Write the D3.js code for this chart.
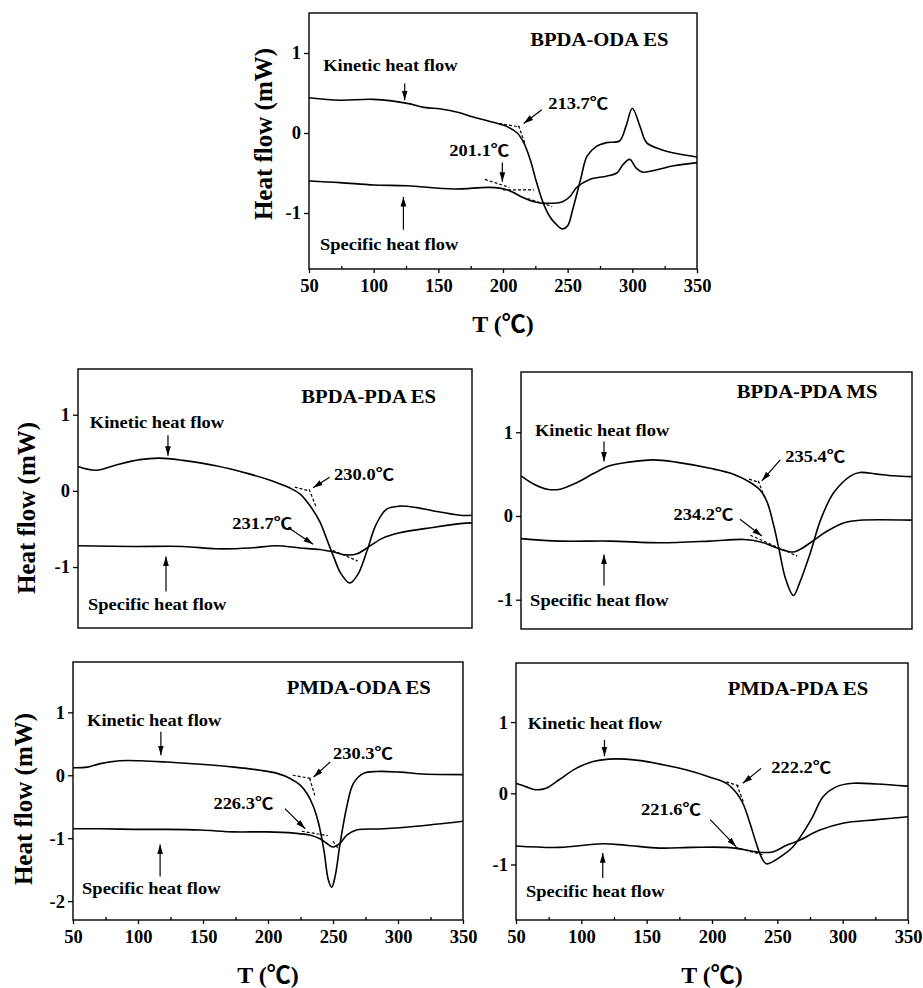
<!DOCTYPE html>
<html>
<head>
<meta charset="utf-8">
<script src="https://cdn.jsdelivr.net/npm/d3@7"></script>
<style>
body { margin: 0; background: #fff; }
text { font-family: "Liberation Serif", "Times New Roman", "Noto Sans CJK SC", serif; font-weight: bold; fill: #000; }
</style>
</head>
<body>
<div id="chart-container"></div>
<script>
// shared axis values
const xTicks = [50, 100, 150, 200, 250, 300, 350];
const xMinorTicks = [75, 125, 175, 225, 275, 325];

// BPDA-ODA ES (top)
const odaEsKinT = [50, 74, 100, 126, 139, 152, 165, 177, 190, 203, 211, 216, 221, 226, 231, 236, 241, 246, 250, 254, 260, 265, 272, 280, 290, 295, 300, 306, 311, 321, 332, 350];
const odaEsKin = [0.44, 0.41, 0.42, 0.37, 0.32, 0.30, 0.26, 0.20, 0.145, 0.08, 0.0, -0.12, -0.33, -0.62, -0.87, -1.04, -1.14, -1.20, -1.16, -0.95, -0.58, -0.29, -0.17, -0.12, -0.10, 0.08, 0.31, 0.08, -0.12, -0.20, -0.25, -0.30];
const odaEsSpecT = [50, 74, 100, 126, 162, 190, 203, 216, 224, 234, 246, 252, 257, 267, 280, 288, 293, 298, 303, 308, 319, 332, 350];
const odaEsSpec = [-0.60, -0.62, -0.65, -0.66, -0.70, -0.68, -0.71, -0.81, -0.86, -0.88, -0.86, -0.79, -0.68, -0.58, -0.54, -0.50, -0.39, -0.33, -0.44, -0.49, -0.46, -0.41, -0.37];
const odaEsTangents = [[[197, 0.12], [213, 0.075]], [[212, 0.09], [217, -0.13]], [[186, -0.58], [205, -0.68]], [[200, -0.71], [224, -0.71]], [[219, -0.82], [238, -0.92]]];
const odaEsLabels = [["Kinetic heat flow", 61, 0.85], ["213.7℃", 235, 0.37], ["201.1℃", 158.5, -0.21], ["Specific heat flow", 58.5, -1.39]];
const odaEsArrows = [[[124, 0.62], [124, 0.41]], [[230, 0.29], [216, 0.12]], [[199.5, -0.37], [199.5, -0.61]], [[123, -1.21], [123, -0.80]]];

// BPDA-PDA ES (middle left)
const pdaEsKinT = [50, 64, 79, 97, 112, 130, 155, 181, 198, 211, 219, 226, 234, 240, 245, 250, 257, 263, 270, 277, 285, 295, 308, 320, 341, 350];
const pdaEsKin = [0.32, 0.27, 0.34, 0.41, 0.43, 0.40, 0.33, 0.22, 0.13, 0.04, -0.04, -0.18, -0.40, -0.66, -0.88, -1.08, -1.21, -1.10, -0.79, -0.44, -0.24, -0.20, -0.22, -0.26, -0.32, -0.32];
const pdaEsSpecT = [50, 92, 130, 155, 181, 201, 219, 234, 244, 254, 262, 270, 282, 295, 320, 341, 350];
const pdaEsSpec = [-0.72, -0.73, -0.73, -0.76, -0.75, -0.72, -0.75, -0.77, -0.80, -0.84, -0.83, -0.75, -0.62, -0.55, -0.48, -0.43, -0.42];
const pdaEsTangents = [[[215, 0.05], [226, 0.0]], [[226, 0.02], [231, -0.20]], [[244, -0.78], [263, -0.92]]];
const pdaEsLabels = [["Kinetic heat flow", 59, 0.90], ["230.0℃", 245, 0.22], ["231.7℃", 167.5, -0.42], ["Specific heat flow", 57.6, -1.49]];
const pdaEsArrows = [[[118.5, 0.73], [118.5, 0.46]], [[241.6, 0.18], [229, 0.04]], [[210, -0.48], [229, -0.70]], [[117, -1.32], [117, -0.86]]];

// BPDA-PDA MS (middle right)
const pdaMsKinT = [50, 60, 70, 80, 93, 106, 118, 131, 152, 170, 195, 213, 226, 234, 239, 244, 248, 253, 259, 264, 272, 280, 290, 303, 310, 323, 336, 350];
const pdaMsKin = [0.48, 0.38, 0.32, 0.32, 0.40, 0.51, 0.60, 0.64, 0.67, 0.64, 0.57, 0.50, 0.40, 0.30, 0.16, -0.12, -0.40, -0.75, -0.95, -0.79, -0.44, -0.04, 0.28, 0.48, 0.52, 0.50, 0.48, 0.47];
const pdaMsSpecT = [50, 80, 118, 157, 195, 221, 234, 246, 259, 264, 272, 285, 298, 310, 350];
const pdaMsSpec = [-0.27, -0.30, -0.30, -0.32, -0.30, -0.28, -0.31, -0.38, -0.43, -0.40, -0.32, -0.18, -0.08, -0.05, -0.05];
const pdaMsTangents = [[[225, 0.44], [233, 0.40]], [[232, 0.42], [237, 0.22]], [[226, -0.23], [262, -0.48]]];
const pdaMsLabels = [["Kinetic heat flow", 60.7, 1.03], ["235.4℃", 252.7, 0.71], ["234.2℃", 167, 0.02], ["Specific heat flow", 57, -1.01]];
const pdaMsArrows = [[[113.7, 0.89], [113.7, 0.65]], [[248.9, 0.67], [234.8, 0.42]], [[218, -0.04], [234.8, -0.24]], [[113.7, -0.83], [113.7, -0.46]]];

// PMDA-ODA ES (bottom left)
const pmOdaKinT = [50, 61, 71, 86, 102, 122, 148, 174, 194, 207, 217, 225, 230, 235, 239, 243, 246.5, 249, 251.6, 255.5, 260.6, 265.7, 273.4, 283.7, 301.6, 319.5, 350];
const pmOdaKin = [0.12, 0.13, 0.185, 0.23, 0.23, 0.21, 0.175, 0.13, 0.08, 0.03, -0.05, -0.16, -0.29, -0.50, -0.77, -1.19, -1.67, -1.78, -1.61, -1.08, -0.50, -0.13, 0.03, 0.06, 0.05, 0.02, 0.01];
const pmOdaSpecT = [50, 71, 97, 122, 148, 174, 199, 220, 232, 240, 245, 250, 255.5, 260.6, 268, 289, 314, 350];
const pmOdaSpec = [-0.85, -0.85, -0.86, -0.86, -0.87, -0.90, -0.90, -0.92, -0.95, -1.01, -1.08, -1.14, -1.08, -0.95, -0.87, -0.85, -0.81, -0.73];
const pmOdaTangents = [[[219, 0.0], [233, -0.05]], [[232, -0.05], [236, -0.32]], [[226, -0.89], [246, -0.96]], [[250, -1.05], [255, -1.19]]];
const pmOdaLabels = [["Kinetic heat flow", 60.8, 0.87], ["230.3℃", 250, 0.35], ["226.3℃", 158, -0.45], ["Specific heat flow", 57, -1.80]];
const pmOdaArrows = [[[117.6, 0.69], [117.6, 0.32]], [[247.8, 0.21], [235, -0.03]], [[213, -0.53], [228.6, -0.85]], [[117, -1.61], [117, -1.10]]];

// PMDA-PDA ES (bottom right)
const pmPdaKinT = [50, 58, 65, 73, 83, 96, 109, 121, 134, 147, 160, 180, 198, 211, 218.5, 223.6, 228.7, 233.8, 237.6, 241.5, 246.6, 254.2, 262, 269.5, 277, 285, 295, 308, 326, 350];
const pmPdaKin = [0.14, 0.09, 0.05, 0.07, 0.19, 0.35, 0.445, 0.48, 0.48, 0.455, 0.41, 0.33, 0.23, 0.14, 0.01, -0.14, -0.40, -0.70, -0.89, -0.99, -0.96, -0.87, -0.75, -0.56, -0.33, -0.05, 0.09, 0.14, 0.13, 0.10];
const pmPdaSpecT = [50, 83, 116, 134, 160, 185, 211, 224, 236, 247, 257, 267, 282, 300, 326, 350];
const pmPdaSpec = [-0.74, -0.76, -0.71, -0.73, -0.77, -0.76, -0.76, -0.79, -0.83, -0.82, -0.73, -0.66, -0.52, -0.42, -0.37, -0.33];
const pmPdaTangents = [[[211, 0.16], [221, 0.10]], [[219, 0.12], [224, -0.12]], [[218, -0.76], [240, -0.87]]];
const pmPdaLabels = [["Kinetic heat flow", 59, 0.99], ["222.2℃", 245.3, 0.37], ["221.6℃", 145.7, -0.23], ["Specific heat flow", 57.7, -1.38]];
const pmPdaArrows = [[[117.7, 0.75], [117.7, 0.52]], [[237.6, 0.35], [223.6, 0.14]], [[198.6, -0.37], [218.5, -0.75]], [[116.4, -1.19], [116.4, -0.84]]];

// scanned original is a bit wider than the font, so notes get stretched
const NOTE_STRETCH = 1.12;
const TITLE_STRETCH = 1.06;

// panel table: frame box in page pixels + data
const panels = [
    {title: ["BPDA-ODA ES", 221, 1.17], box: {l: 309, r: 697, t: 13, b: 269}, yLabel: [263, 134], showX: true,
     yDomain: [-1.7, 1.5], yTicks: [-1, 0, 1],
     kinT: odaEsKinT, kin: odaEsKin, specT: odaEsSpecT, spec: odaEsSpec,
     tangents: odaEsTangents, labels: odaEsLabels, arrows: odaEsArrows},
    {title: ["BPDA-PDA ES", 220, 1.25], box: {l: 78, r: 472, t: 369, b: 628}, yLabel: [26, 508], showX: false,
     yDomain: [-1.8, 1.6], yTicks: [-1, 0, 1],
     kinT: pdaEsKinT, kin: pdaEsKin, specT: pdaEsSpecT, spec: pdaEsSpec,
     tangents: pdaEsTangents, labels: pdaEsLabels, arrows: pdaEsArrows},
    {title: ["BPDA-PDA MS", 215.6, 1.49], box: {l: 521, r: 912, t: 372, b: 629}, yLabel: null, showX: false,
     yDomain: [-1.35, 1.72], yTicks: [-1, 0, 1],
     kinT: pdaMsKinT, kin: pdaMsKin, specT: pdaMsSpecT, spec: pdaMsSpec,
     tangents: pdaMsTangents, labels: pdaMsLabels, arrows: pdaMsArrows},
    {title: ["PMDA-ODA ES", 214.5, 1.40], box: {l: 73, r: 463, t: 662, b: 920}, yLabel: [23, 799], showX: true,
     yDomain: [-2.3, 1.8], yTicks: [-2, -1, 0, 1],
     kinT: pmOdaKinT, kin: pmOdaKin, specT: pmOdaSpecT, spec: pmOdaSpec,
     tangents: pmOdaTangents, labels: pmOdaLabels, arrows: pmOdaArrows},
    {title: ["PMDA-PDA ES", 212, 1.48], box: {l: 516, r: 908, t: 663, b: 920}, yLabel: null, showX: true,
     yDomain: [-1.78, 1.83], yTicks: [-1, 0, 1],
     kinT: pmPdaKinT, kin: pmPdaKin, specT: pmPdaSpecT, spec: pmPdaSpec,
     tangents: pmPdaTangents, labels: pmPdaLabels, arrows: pmPdaArrows}
];

const svg = d3.select("#chart-container").append("svg")
    .attr("width", 923).attr("height", 988)
    .style("display", "block").style("background", "#fff");

svg.append("defs").append("marker")
    .attr("id", "arrowhead")
    .attr("viewBox", "0 0 10 10")
    .attr("refX", 10).attr("refY", 5)
    .attr("markerWidth", 8).attr("markerHeight", 8)
    .attr("orient", "auto")
    .append("path").attr("d", "M0,2 L10,5 L0,8 Z").attr("fill", "#000");

function styleAxis(g) {
    g.attr("font-family", null).attr("font-size", null);
    g.select(".domain").remove();
    g.selectAll("line").attr("stroke", "#000").attr("stroke-width", 1.3);
    g.selectAll("text").style("font-size", "18.5px");
}

function drawPanel(p) {
    const g = svg.append("g");
    const x = d3.scaleLinear().domain([50, 350]).range([p.box.l, p.box.r]);
    const y = d3.scaleLinear().domain(p.yDomain).range([p.box.b, p.box.t]);

    // y axis ticks on the outside
    g.append("g")
        .attr("transform", `translate(${p.box.l},0)`)
        .call(d3.axisLeft(y).tickValues(p.yTicks).tickFormat(d => String(d)).tickSize(5).tickPadding(3))
        .call(styleAxis);

    if (p.showX) {
        g.append("g")
            .attr("transform", `translate(0,${p.box.b})`)
            .call(d3.axisBottom(x).tickValues(xTicks).tickSize(4).tickPadding(6))
            .call(styleAxis);
        // minor ticks point into the plot
        g.append("g")
            .attr("transform", `translate(0,${p.box.b})`)
            .call(d3.axisBottom(x).tickValues(xMinorTicks).tickSize(-3).tickFormat(""))
            .call(styleAxis);
        g.append("text")
            .attr("x", (p.box.l + p.box.r) / 2)
            .attr("y", p.box.b + 63)
            .attr("text-anchor", "middle")
            .style("font-size", "24px")
            .text("T (℃)");
    }

    if (p.yLabel) {
        g.append("text")
            .attr("transform", `translate(${p.yLabel[0]},${p.yLabel[1]}) rotate(-90)`)
            .attr("text-anchor", "middle")
            .attr("dy", "0.35em")
            .style("font-size", "25px")
            .text("Heat flow (mW)");
    }

    g.append("rect")
        .attr("x", p.box.l).attr("y", p.box.t)
        .attr("width", p.box.r - p.box.l).attr("height", p.box.b - p.box.t)
        .attr("fill", "none").attr("stroke", "#000").attr("stroke-width", 1.4);

    const line = d3.line()
        .x(d => x(d[0]))
        .y(d => y(d[1]))
        .curve(d3.curveCatmullRom.alpha(0.5));

    g.selectAll("path.curve")
        .data([d3.zip(p.kinT, p.kin), d3.zip(p.specT, p.spec)])
        .enter().append("path")
        .attr("class", "curve")
        .attr("d", line)
        .attr("fill", "none").attr("stroke", "#000").attr("stroke-width", 1.6);

    g.selectAll("line.tangent")
        .data(p.tangents)
        .enter().append("line")
        .attr("class", "tangent")
        .attr("x1", d => x(d[0][0])).attr("y1", d => y(d[0][1]))
        .attr("x2", d => x(d[1][0])).attr("y2", d => y(d[1][1]))
        .attr("stroke", "#000").attr("stroke-width", 1.2)
        .attr("stroke-dasharray", "3,2");

    g.selectAll("line.arrow")
        .data(p.arrows)
        .enter().append("line")
        .attr("class", "arrow")
        .attr("x1", d => x(d[0][0])).attr("y1", d => y(d[0][1]))
        .attr("x2", d => x(d[1][0])).attr("y2", d => y(d[1][1]))
        .attr("stroke", "#000").attr("stroke-width", 1.2)
        .attr("marker-end", "url(#arrowhead)");

    g.selectAll("text.note")
        .data(p.labels)
        .enter().append("text")
        .attr("class", "note")
        .attr("transform", d => `translate(${x(d[1])},${y(d[2])}) scale(${NOTE_STRETCH},1)`)
        .attr("dy", "0.35em")
        .style("font-size", "16.5px")
        .text(d => d[0]);

    g.append("text")
        .attr("transform", `translate(${x(p.title[1])},${y(p.title[2])}) scale(${TITLE_STRETCH},1)`)
        .attr("dy", "0.35em")
        .style("font-size", "19.5px")
        .text(p.title[0]);
}

panels.forEach(drawPanel);
</script>
</body>
</html>
